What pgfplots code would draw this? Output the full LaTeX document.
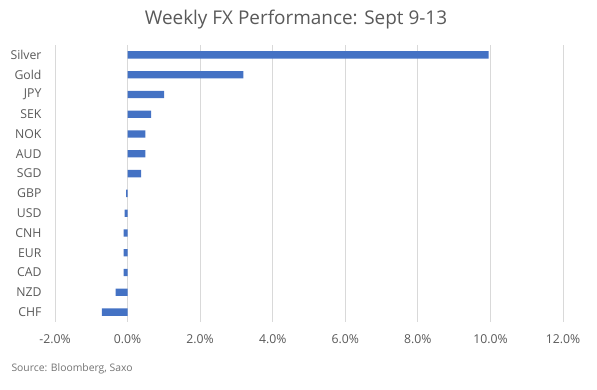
\documentclass[border=0pt]{standalone}
\usepackage{fontspec}
\setmainfont{Open Sans}
\usepackage{pgfplots}
\pgfplotsset{compat=1.18}
\definecolor{barblue}{HTML}{4472C4}
\definecolor{txt}{HTML}{595959}
\definecolor{gridgray}{HTML}{D9D9D9}
\begin{document}
\begin{tikzpicture}[x=1bp,y=1bp]
\path[use as bounding box] (0,0) rectangle (597,389);
\begin{axis}[
  at={(55bp,67bp)}, anchor=south west,
  scale only axis, width=508bp, height=277bp,
  xbar, bar width=7.3bp,
  xmin=-2, xmax=12,
  ymin=-0.5, ymax=13.5, y dir=reverse,
  axis x line*=bottom, axis y line*=left,
  x axis line style={draw=none}, y axis line style={draw=none},
  ytick={0,...,13},
  yticklabels={Silver,Gold,JPY,SEK,NOK,AUD,SGD,GBP,USD,CNH,EUR,CAD,NZD,CHF},
  xtick={-2,0,2,4,6,8,10,12},
  xticklabels={-2.0\%,0.0\%,2.0\%,4.0\%,6.0\%,8.0\%,10.0\%,12.0\%},
  xmajorgrids, ymajorgrids=false,
  major grid style={draw=gridgray, line width=0.75bp},
  major tick length=0pt,
  tick label style={font=\fontsize{12.3}{14}\selectfont, text=txt},
  yticklabel style={anchor=east, xshift=-10bp},
  xticklabel style={yshift=-9bp},
]
\addplot[fill=barblue, draw=none] coordinates {
(9.95,0) (3.19,1) (1.01,2) (0.65,3) (0.49,4) (0.49,5) (0.37,6)
(-0.04,7) (-0.08,8) (-0.11,9) (-0.11,10) (-0.11,11) (-0.33,12) (-0.71,13)
};
\end{axis}
\node[text=txt, font=\fontsize{19}{22}\selectfont] at (296,369) {Weekly FX Performance: Sept 9-13};
\node[text=txt!85, font=\fontsize{10.4}{12}\selectfont, anchor=west] at (8,20) {Source: Bloomberg, Saxo};
\end{tikzpicture}
\end{document}
